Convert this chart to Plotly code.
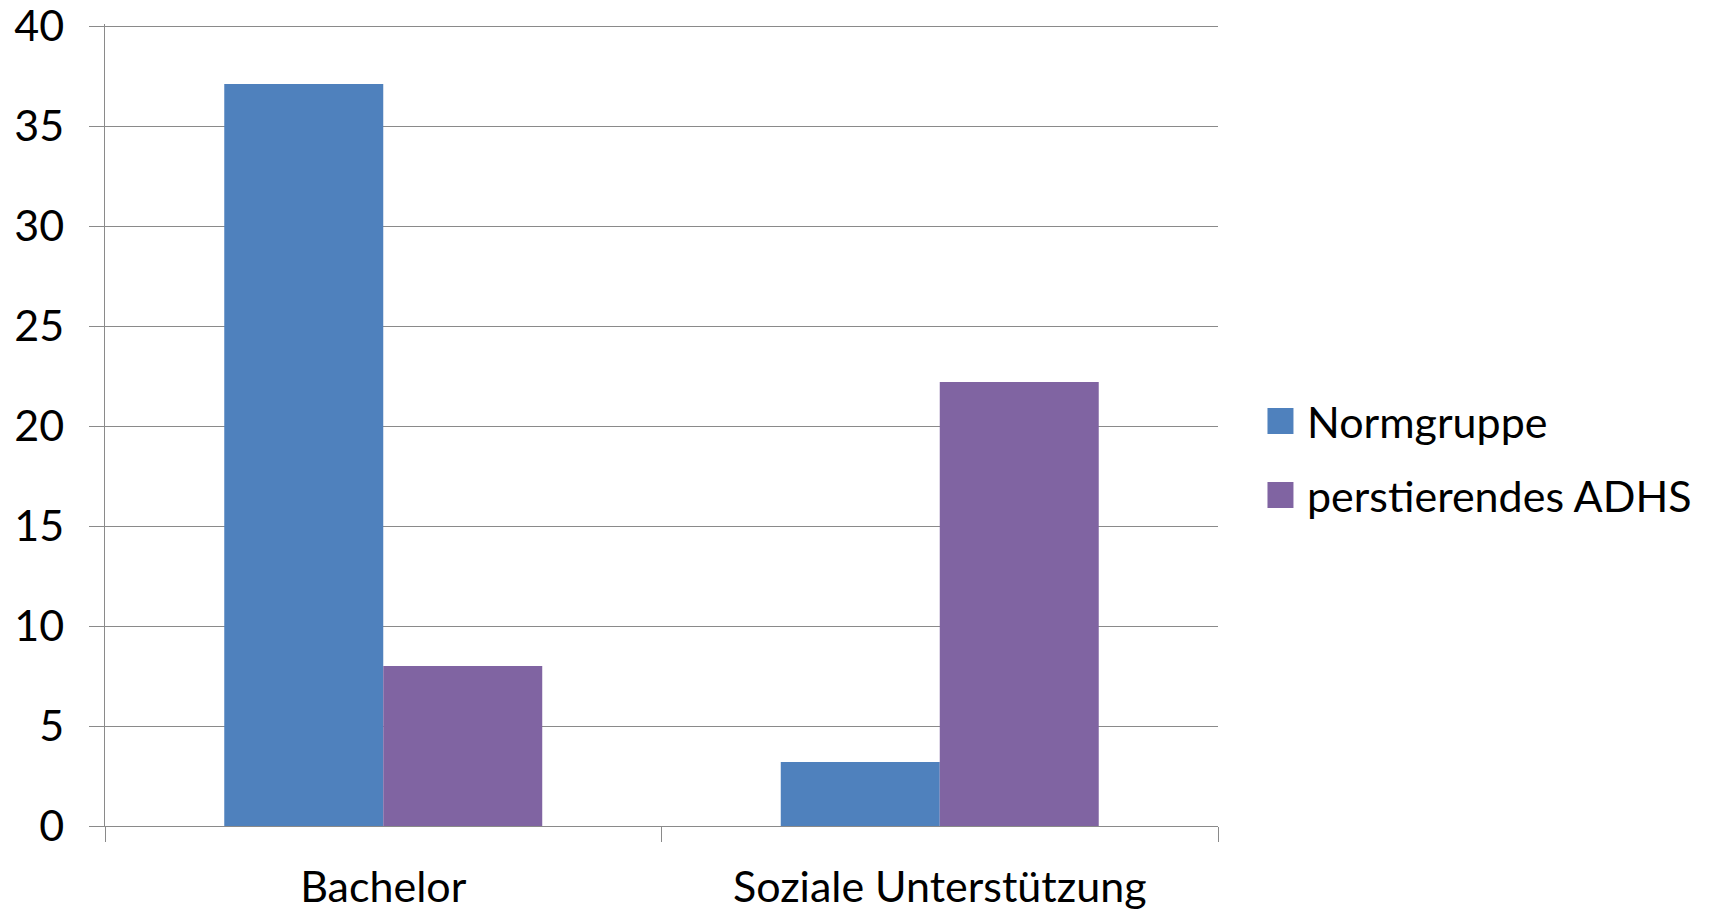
import plotly.graph_objects as go

categories = ["Bachelor", "Soziale Unterstützung"]
series_names = ["Normgruppe", "perstierendes ADHS"]
normgruppe = [37.1, 3.2]
adhs = [8.0, 22.2]
colors = ["#4F81BD", "#8064A2"]
y_ticks = [0, 5, 10, 15, 20, 25, 30, 35, 40]

FONT = "Lato"
FSIZE = 43
GRID = "#8a8a8a"

# plot-area geometry in pixels; the y range runs a hair past 40 so the
# top gridline is kept (Plotly drops a gridline sitting on the frame edge)
L, R, T, B = 105, 1218.5, 24, 826
W, H = R - L, B - T
Y_MAX = 40.1

fig = go.Figure()
for name, vals, col in zip(series_names, [normgruppe, adhs], colors):
    fig.add_trace(go.Bar(
        x=categories, y=vals, name=name,
        marker=dict(color=col, line=dict(width=0)),
        showlegend=False,
    ))

# Legend drawn as square swatches with labels to the right of the plot
legend_y = [421, 495]
for name, col, yc in zip(series_names, colors, legend_y):
    fig.add_shape(type="rect", xref="paper", yref="paper",
                  x0=(1268 - L) / W, x1=(1294 - L) / W,
                  y0=(B - yc - 13) / H, y1=(B - yc + 13) / H,
                  fillcolor=col, line=dict(width=0))
    fig.add_annotation(xref="paper", yref="paper",
                       x=(1306 - L) / W, y=(B - yc) / H,
                       text=name, showarrow=False, xanchor="left", yanchor="middle",
                       font=dict(family=FONT, size=FSIZE, color="#000000"))

fig.update_layout(
    width=1715, height=913,
    margin=dict(l=L, r=1715 - R, t=T, b=913 - B, pad=0),
    paper_bgcolor="white", plot_bgcolor="white",
    barmode="group", bargap=0.4286, bargroupgap=0,
    font=dict(family=FONT, size=FSIZE, color="#000000"),
)
fig.update_xaxes(
    automargin=False,
    showline=True, linecolor=GRID, linewidth=1.3,
    ticks="outside", tickson="boundaries", ticklen=15, tickcolor=GRID, tickwidth=1.3,
    showgrid=False, ticklabelstandoff=23,
    tickfont=dict(family=FONT, size=FSIZE, color="#000000"),
)
fig.update_yaxes(
    automargin=False, ticklabeloverflow="allow",
    range=[0, Y_MAX], tickvals=y_ticks,
    showline=True, linecolor=GRID, linewidth=1.3,
    ticks="outside", ticklen=15, tickcolor=GRID, tickwidth=1.3,
    showgrid=True, gridcolor=GRID, gridwidth=1.3, zeroline=False,
    ticklabelstandoff=16,
    tickfont=dict(family=FONT, size=FSIZE, color="#000000"),
)

fig.write_html("out.html")
